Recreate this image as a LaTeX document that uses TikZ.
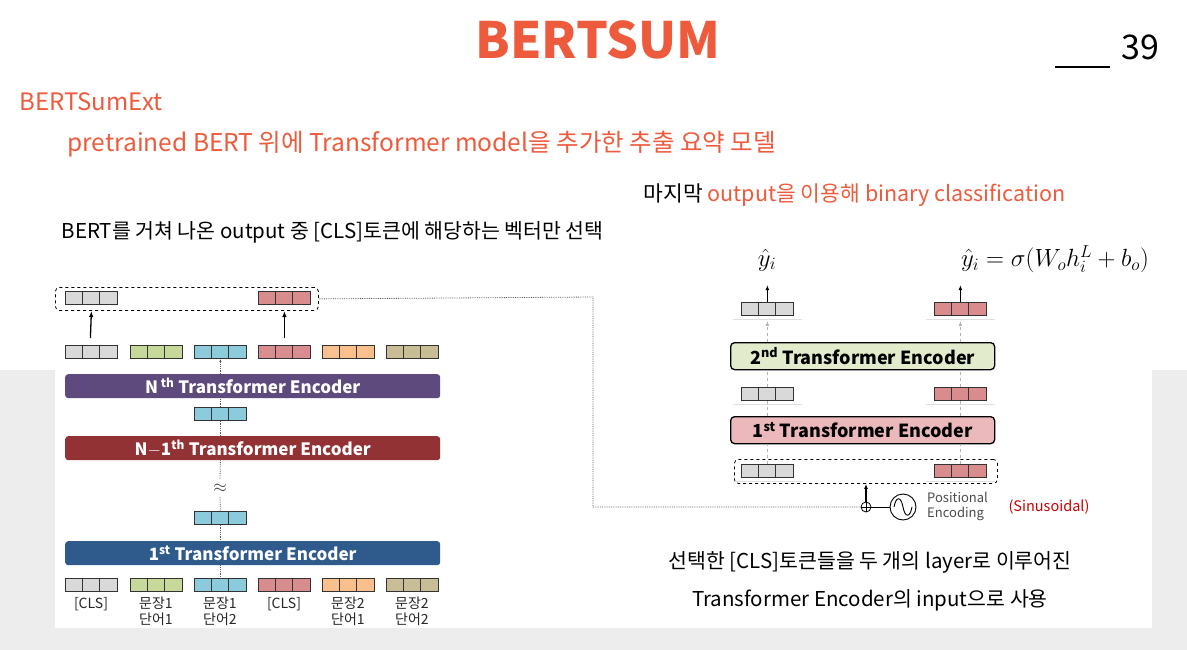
\documentclass[tikz,border=0pt]{standalone}
\usepackage{fontspec}
\setmainfont{Noto Sans CJK KR}
\setsansfont{Noto Sans CJK KR}
\usetikzlibrary{arrows.meta}
\definecolor{acc}{HTML}{EE5A3C}
\definecolor{cg}{HTML}{D9D9D9}
\definecolor{cgr}{HTML}{C6D89A}
\definecolor{cb}{HTML}{8CCBDC}
\definecolor{cr}{HTML}{D98C8E}
\definecolor{co}{HTML}{F9C08E}
\definecolor{ck}{HTML}{C9BD97}
\definecolor{encP}{HTML}{5E4A7C}
\definecolor{encR}{HTML}{923235}
\definecolor{encB}{HTML}{2F5A8C}
\definecolor{enc2}{HTML}{E2EBCB}
\definecolor{enc1}{HTML}{EBB8BB}
\tikzset{
  enc/.style={rounded corners=3pt,minimum height=24pt,text=white,font=\sffamily\bfseries\fontsize{17}{17}\selectfont,inner sep=0},
  encw/.style={rounded corners=4pt,draw=black,line width=1.3pt,minimum height=27pt,font=\sffamily\bfseries\fontsize{18}{18}\selectfont,inner sep=0},
  dotl/.style={densely dotted,gray!70!black,line width=0.8pt},
  gdash/.style={dashed,gray!60,line width=1pt},
  lab/.style={font=\fontsize{14}{16}\selectfont,align=center,text=gray!30!black,inner sep=0},
}
\newcommand{\vecblk}[4]{%
  \node[draw=gray!40!black,fill=#4,line width=0.8pt,minimum width=52pt,minimum height=13pt,inner sep=0,anchor=north west] (#1) at (#2,#3) {};
  \draw[gray!40!black,line width=0.8pt] ([xshift=17.3pt]#1.north west)--([xshift=17.3pt]#1.south west) ([xshift=34.7pt]#1.north west)--([xshift=34.7pt]#1.south west);}
\begin{document}
\begin{tikzpicture}[x=1pt,y=-1pt]
\useasboundingbox (0,0) rectangle (1187,650);
\fill[gray!14] (0,370) rectangle (1187,650);
\fill[white] (55,0) rectangle (1152,628);
\fill[white] (0,0) rectangle (1187,370);
\node[text=acc,font=\bfseries\fontsize{50}{50}\selectfont] (title) at (598,40) {BERTSUM};
\draw[line width=1.5pt] (1055,67)--(1110,67);
\node[font=\fontsize{34}{34}\selectfont,anchor=west] (pg) at (1118,47) {39};
\node[text=acc,anchor=west,font=\fontsize{24}{24}\selectfont] (t1) at (16,102) {BERTSumExt};
\node[text=acc,anchor=west,font=\fontsize{24.5}{25}\selectfont] (t2) at (64,144) {pretrained BERT 위에 Transformer model을 추가한 추출 요약 모델};
\node[anchor=west,font=\fontsize{21.5}{22}\selectfont] (t3) at (640,195) {마지막 \textcolor{acc}{output을 이용해 binary classification}};
\node[anchor=west,font=\fontsize{20.5}{22}\selectfont] (t4) at (58,232) {BERT를 거쳐 나온 output 중 [CLS]토큰에 해당하는 벡터만 선택};
\node[font=\fontsize{20.5}{22}\selectfont] (t5) at (870,562) {선택한 [CLS]토큰들을 두 개의 layer로 이루어진};
\node[font=\fontsize{20.5}{22}\selectfont] (t6) at (870,600) {Transformer Encoder의 input으로 사용};
% ---------- left diagram
\node[draw,dashed,rounded corners=4pt,line width=0.8pt,minimum width=263pt,minimum height=23pt,anchor=north west,inner sep=0] (selbox) at (55,287) {};
\vecblk{s1}{65}{291}{cg}
\vecblk{s2}{258}{291}{cr}
\foreach \n/\x/\c in {o1/65/cg,o2/130/cgr,o3/194/cb,o4/258/cr,o5/322/co,o6/386/ck}{\vecblk{\n}{\x}{345}{\c}}
\draw[-{Latex[length=6pt]},line width=1.3pt] ([xshift=-1pt]o1.north|-0,338)--(o1.north|-0,311);
\draw[-{Latex[length=6pt]},line width=1.3pt] (o4.north|-0,338)--(o4.north|-0,311);
\node[enc,fill=encP,minimum width=375pt,anchor=north west] (eN) at (65,374) {N\,\textsuperscript{th} Transformer Encoder};
\vecblk{m1}{194}{407}{cb}
\node[enc,fill=encR,minimum width=375pt,anchor=north west] (eN1) at (65,436) {N$-$1\textsuperscript{th} Transformer Encoder};
\node[font=\fontsize{18}{18}\selectfont,text=gray!50!black] (approx) at (220,488) {$\approx$};
\vecblk{m2}{194}{511}{cb}
\node[enc,fill=encB,minimum width=375pt,anchor=north west] (e1) at (65,541) {1\textsuperscript{st} Transformer Encoder};
\foreach \n/\x/\c in {b1/65/cg,b2/130/cgr,b3/194/cb,b4/258/cr,b5/322/co,b6/386/ck}{\vecblk{\n}{\x}{578}{\c}}
\draw[dotl,-{Latex[length=3pt]}] (eN.north-|o3.south)--(o3.south);
\draw[dotl] (eN1.north-|m1.south)--(m1.south) (m1.north)--(eN.south-|m1.north);
\draw[dotl] (eN1.south-|m1.south)--(220,480) (220,497)--(m2.north);
\draw[dotl] (m2.south)--(e1.north-|m2.south) (e1.south-|b3.north)--(b3.north);
\node[lab,anchor=north] (l1) at (91,597) {[CLS]};
\node[lab,anchor=north] (l2) at (156,597) {문장1\\단어1};
\node[lab,anchor=north] (l3) at (220,597) {문장1\\단어2};
\node[lab,anchor=north] (l4) at (284,597) {[CLS]};
\node[lab,anchor=north] (l5) at (348,597) {문장2\\단어1};
\node[lab,anchor=north] (l6) at (412,597) {문장2\\단어2};
% ---------- right diagram
\node[draw,dashed,rounded corners=4pt,line width=0.8pt,minimum width=263pt,minimum height=24pt,anchor=north west,inner sep=0] (inbox) at (734,459) {};
\vecblk{r1}{741}{464}{cg}
\vecblk{r2}{934}{464}{cr}
\node[encw,fill=enc1,minimum width=264pt,anchor=north west] (re1) at (730,416) {1\textsuperscript{st} Transformer Encoder};
\vecblk{q1}{741}{387}{cg}
\vecblk{q2}{934}{387}{cr}
\node[encw,fill=enc2,minimum width=264pt,anchor=north west] (re2) at (730,342) {2\textsuperscript{nd} Transformer Encoder};
\vecblk{p1}{741}{302}{cg}
\vecblk{p2}{934}{302}{cr}
\foreach \b in {r1,r2,q1,q2,p1,p2}{\draw[gray!25,line width=0.6pt] ([xshift=-8pt,yshift=-3pt]\b.south west)--([xshift=8pt,yshift=-3pt]\b.south east);}
\draw[gdash] (r1.north)--(re1.south-|r1.north) (re1.north-|q1.south)--(q1.south) (q1.north)--(re2.south-|q1.north);
\draw[gdash] (r2.north)--(re1.south-|r2.north) (re1.north-|q2.south)--(q2.south) (q2.north)--(re2.south-|q2.north);
\draw[gdash,-{Latex[length=5pt]}] (re2.north-|p1.south)--([yshift=-5pt]p1.south);
\draw[gdash,-{Latex[length=5pt]}] (re2.north-|p2.south)--([yshift=-5pt]p2.south);
\draw[-{Latex[length=5pt]},line width=1.2pt] (p1.north)--++(0,-17);
\draw[-{Latex[length=5pt]},line width=1.2pt] (p2.north)--++(0,-17);
\node[font=\fontsize{25}{25}\selectfont] (yh) at (767,260) {$\hat y_i$};
\node[font=\fontsize{25}{25}\selectfont] (form) at (1055,259) {$\hat y_i=\sigma(W_oh_i^L+b_o)$};
\node[draw,circle,minimum size=10pt,inner sep=0,line width=0.8pt] (plus) at (866,507) {};
\draw[line width=0.8pt] (plus.north)--(plus.south) (plus.west)--(plus.east);
\node[draw,circle,minimum size=26pt,inner sep=0,line width=0.9pt] (sine) at (903,507) {};
\draw[line width=0.9pt] (894,507) .. controls (896,496) and (901,496) .. (903,507) .. controls (905,518) and (910,518) .. (912,507);
\draw[line width=0.8pt] (plus)--(sine);
\draw[-{Latex[length=5pt]},line width=1.1pt] (plus.north)--(inbox.south-|plus.north);
\node[anchor=west,text=gray!60!black,font=\sffamily\fontsize{13}{15}\selectfont,align=left,inner sep=1pt] (pe) at (926,506) {Positional\\Encoding};
\node[anchor=west,text=red!80!black,font=\sffamily\fontsize{14.5}{14}\selectfont] (sin) at (1005,507) {(Sinusoidal)};
\coordinate (c1) at (593,297);
\coordinate (c2) at (593,507);
\draw[dotl] (selbox.east)--(c1)--(c2)--(plus.west);
\end{tikzpicture}
\end{document}
